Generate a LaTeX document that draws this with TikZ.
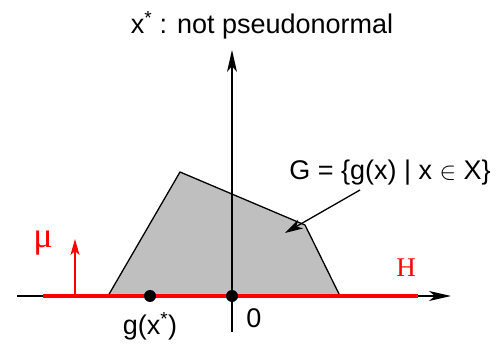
\documentclass[tikz,border=0pt]{standalone}
\usepackage{fontspec}
\setmainfont{Liberation Sans}
\newfontfamily\serifred{Liberation Serif}
\usetikzlibrary{arrows.meta}
\begin{document}
\begin{tikzpicture}[x=1pt,y=-1pt,
  axis/.style={line width=1.3pt,-{Stealth[length=22pt,width=10pt,inset=6pt]}},
  dot/.style={circle,fill=black,inner sep=0pt,minimum size=12pt},
  lbl/.style={font=\fontsize{27}{30}\selectfont,inner sep=0pt},
  redlbl/.style={text=red,font=\serifred\fontsize{27}{30}\selectfont,inner sep=0pt}]
\useasboundingbox (0,0) rectangle (500,344);
% polygon G
\filldraw[fill=black!25,draw=black,line width=1.3pt] (108,296) -- (180,172) -- (305,225) -- (340,296) -- cycle;
% axes
\coordinate (xs) at (17,296);
\coordinate (xe) at (451,296);
\coordinate (ys) at (232,332);
\coordinate (ye) at (232,50);
\draw[axis] (xs) -- (xe);
\draw[axis] (ys) -- (ye);
% red hyperplane
\coordinate (hs) at (43,296);
\coordinate (he) at (418,296);
\draw[red,line width=4.5pt] (hs) -- (he);
% dots
\node[dot] (g) at (150,296) {};
\node[dot] (o) at (232,296) {};
% mu arrow
\coordinate (mus) at (75,296);
\coordinate (mue) at (75,239);
\draw[red,line width=1.3pt,-{Stealth[length=16pt,width=9pt,inset=4pt]}] (mus) -- (mue);
\node[redlbl,font=\serifred\fontsize{36}{40}\selectfont] (mu) at (43,243) {μ};
\node[redlbl] (H) at (406,268) {H};
% labels
\node[lbl] (gl) at (150,326) {g(x\textsuperscript{*})};
\node[lbl] (zero) at (254,318) {0};
\node[lbl] (title) at (262,25) {x\textsuperscript{*} : not pseudonormal};
\node[lbl] (G) at (390,173) {G = \{g(x) | x \ensuremath{\in} X\}};
\coordinate (gtip) at (285,233);
\draw[line width=1.3pt,-{Stealth[length=18pt,width=10pt,inset=5pt]}] (360,190) -- (gtip);
\end{tikzpicture}
\end{document}
